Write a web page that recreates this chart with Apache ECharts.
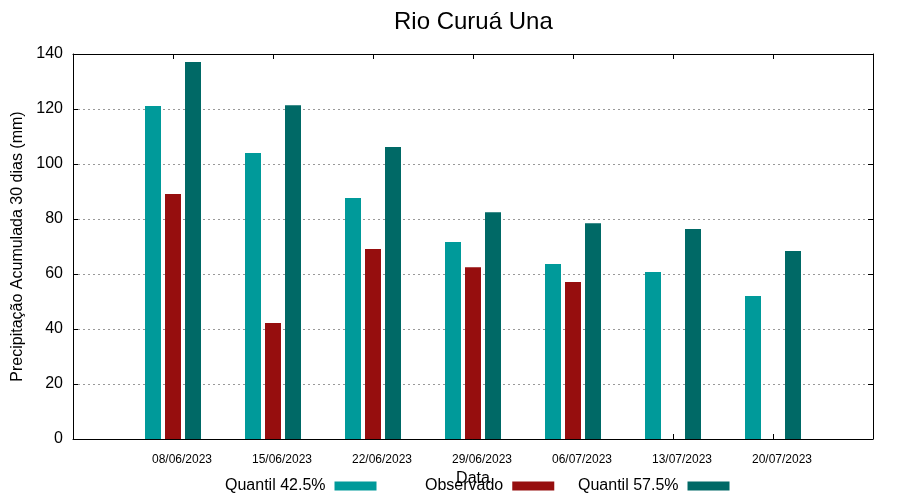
<!DOCTYPE html>
<html>
<head>
<meta charset="utf-8">
<script src="https://cdn.jsdelivr.net/npm/echarts@6/dist/echarts.min.js"></script>
<style>html,body{margin:0;padding:0;background:#fff}#c{width:900px;height:500px}</style>
</head>
<body>
<div id="c"></div>
<script>
var dates = ['08/06/2023','15/06/2023','22/06/2023','29/06/2023','06/07/2023','13/07/2023','20/07/2023'];
var q425 = [121.1, 104.0, 87.6, 71.6, 63.6, 60.7, 52.0];
var observado = [89.1, 42.2, 69.1, 62.5, 57.1, null, null];
var q575 = [137.1, 121.4, 106.2, 82.5, 78.5, 76.4, 68.4];
var yTicks = [0, 20, 40, 60, 80, 100, 120, 140];

var FONT = '"Liberation Sans", Arial, sans-serif';
var cats = [''].concat(dates, ['']);
function pad(a){ return [null].concat(a, [null]); }
var colors = {q1:'#009a9a', ob:'#960e0e', q2:'#006966'};

var chart = echarts.init(document.getElementById('c'), null, {renderer:'canvas'});
function legend(name, left){
  return {
    data:[name], left:left, top:473, orient:'horizontal', align:'right',
    itemWidth:42, itemHeight:9, icon:'rect', selectedMode:false,
    textStyle:{fontFamily:FONT, fontSize:16, color:'#000', padding:[0,4,0,0]}
  };
}
chart.setOption({
  animation:false,
  title:{text:'Rio Curuá Una', left:389, top:5,
    textStyle:{fontFamily:FONT, fontSize:24, fontWeight:'normal', color:'#000'}},
  grid:{left:73, right:27, top:54, bottom:61, containLabel:false},
  legend:[legend('Quantil 42.5%',220), legend('Observado',420), legend('Quantil 57.5%',573)],
  xAxis:[{
    type:'category', data:cats, boundaryGap:false, position:'bottom',
    name:'Data', nameLocation:'middle', nameGap:24,
    nameTextStyle:{fontFamily:FONT, fontSize:16, color:'#000'},
    axisLine:{onZero:false, lineStyle:{color:'#000', width:1}},
    axisTick:{show:true, inside:true, length:5, interval:0, lineStyle:{color:'#000'}},
    axisLabel:{fontFamily:FONT, fontSize:12, color:'#000', margin:15, padding:[0,0,0,18], interval:0},
    splitLine:{show:false}
  },{
    type:'category', data:cats, boundaryGap:false, position:'top',
    axisLine:{onZero:false, lineStyle:{color:'#000', width:1}},
    axisTick:{show:true, inside:true, length:5, interval:0, lineStyle:{color:'#000'}},
    axisLabel:{show:false}, splitLine:{show:false}
  }],
  yAxis:[{
    type:'value', min:0, max:140, interval:20, position:'left',
    name:'Precipitação Acumulada 30 dias (mm)', nameLocation:'middle', nameGap:38, nameRotate:90,
    nameTextStyle:{fontFamily:FONT, fontSize:16, color:'#000'},
    axisLine:{show:true, onZero:false, lineStyle:{color:'#000', width:1}},
    axisTick:{show:true, inside:true, length:5, lineStyle:{color:'#000'}},
    axisLabel:{fontFamily:FONT, fontSize:16, color:'#000', margin:10,
      formatter:function(v){ return yTicks.indexOf(v) >= 0 ? String(v) : ''; }},
    splitLine:{show:true, lineStyle:{color:'#999', type:[2,3], width:1}}
  },{
    type:'value', min:0, max:140, interval:20, position:'right',
    axisLine:{show:true, onZero:false, lineStyle:{color:'#000', width:1}},
    axisTick:{show:true, inside:true, length:5, lineStyle:{color:'#000'}},
    axisLabel:{show:false}, splitLine:{show:false}
  }],
  series:[
    {name:'Quantil 42.5%', type:'bar', data:pad(q425), barWidth:16, barGap:'25%', itemStyle:{color:colors.q1}},
    {name:'Observado', type:'bar', data:pad(observado), barWidth:16, barGap:'25%', itemStyle:{color:colors.ob}},
    {name:'Quantil 57.5%', type:'bar', data:pad(q575), barWidth:16, barGap:'25%', itemStyle:{color:colors.q2}}
  ]
});
</script>
</body>
</html>
